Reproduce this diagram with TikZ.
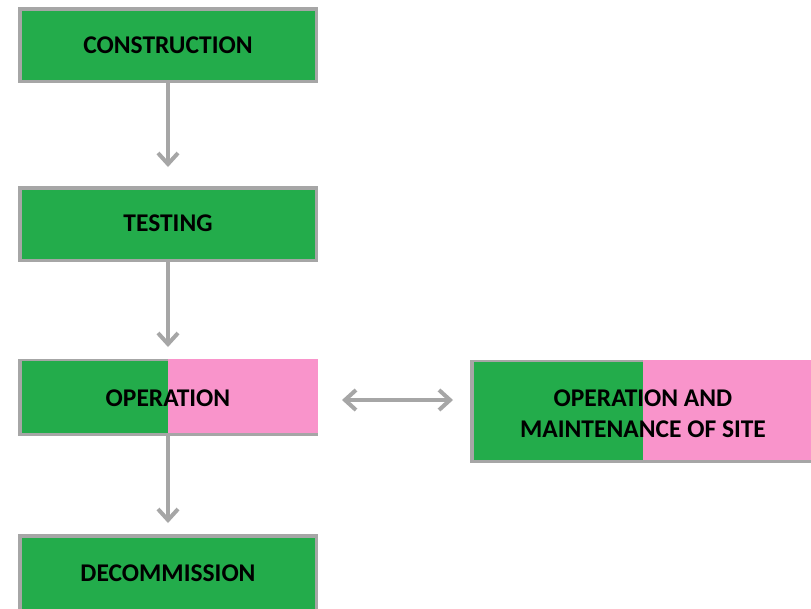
\documentclass[tikz,border=0pt]{standalone}
\usepackage{fontspec}
\setmainfont{Carlito}
\usetikzlibrary{arrows.meta}
\definecolor{boxgreen}{RGB}{35,172,75}
\definecolor{boxpink}{RGB}{249,148,203}
\definecolor{edgegray}{RGB}{166,166,166}
\tikzset{
  box/.style={draw=edgegray, line width=3.5pt, fill=boxgreen},
  lbl/.style={font=\bfseries\fontsize{25.5}{31}\selectfont, align=center, text=black},
  tip/.style={Straight Barb[length=11pt,width=20pt,line width=4pt]},
  conn/.style={draw=edgegray, line width=4pt, -{Straight Barb[length=11pt,width=20pt,line width=4pt]}},
  dconn/.style={draw=edgegray, line width=4pt, {Straight Barb[length=11pt,width=20pt,line width=4pt]}-{Straight Barb[length=11pt,width=20pt,line width=4pt]}}
}
\begin{document}
\begin{tikzpicture}[x=1pt,y=-1pt]
\useasboundingbox (0,0) rectangle (811,608);
\fill[white] (0,0) rectangle (811,608);
% boxes
\draw[box] (19.75,8.75) rectangle (316.25,81.25);
\node[lbl] (con) at (168,45) {CONSTRUCTION};
\coordinate (conb) at (168,83);
\draw[box] (19.75,187.75) rectangle (316.25,260.25);
\node[lbl] (tes) at (168,223) {TESTING};
\coordinate (test) at (168,186);
\coordinate (tesb) at (168,262);
% operation
\draw[draw=edgegray, line width=3.5pt] (19.75,361) rectangle (316.25,434.25);
\fill[boxgreen] (21.5,361) rectangle (168,432.5);
\fill[boxpink] (168,359) rectangle (318,432.5);
\node[lbl] (ope) at (168,398) {OPERATION};
\coordinate (opet) at (168,359);
\coordinate (opeb) at (168,436);
\coordinate (oper) at (342,400);
% O&M
\draw[draw=edgegray, line width=3.5pt] (471.75,362) rectangle (815,461.25);
\fill[boxgreen] (473.5,362) rectangle (643,459.5);
\fill[boxpink] (643,360) rectangle (811,459.5);
\node[lbl] (om) at (643,414) {OPERATION AND\\MAINTENANCE OF SITE};
\coordinate (oml) at (453,400);
% decommission
\draw[box] (19.75,535.75) rectangle (316.25,612);
\node[lbl] (dec) at (168,573) {DECOMMISSION};
\coordinate (dect) at (168,534);
% connectors
\draw[conn] (conb) -- ([yshift=19pt]test);
\draw[conn] (tesb) -- ([yshift=12pt]opet);
\draw[conn] (opeb) -- ([yshift=11pt]dect);
\draw[dconn] (oper) -- (oml);
\end{tikzpicture}
\end{document}
